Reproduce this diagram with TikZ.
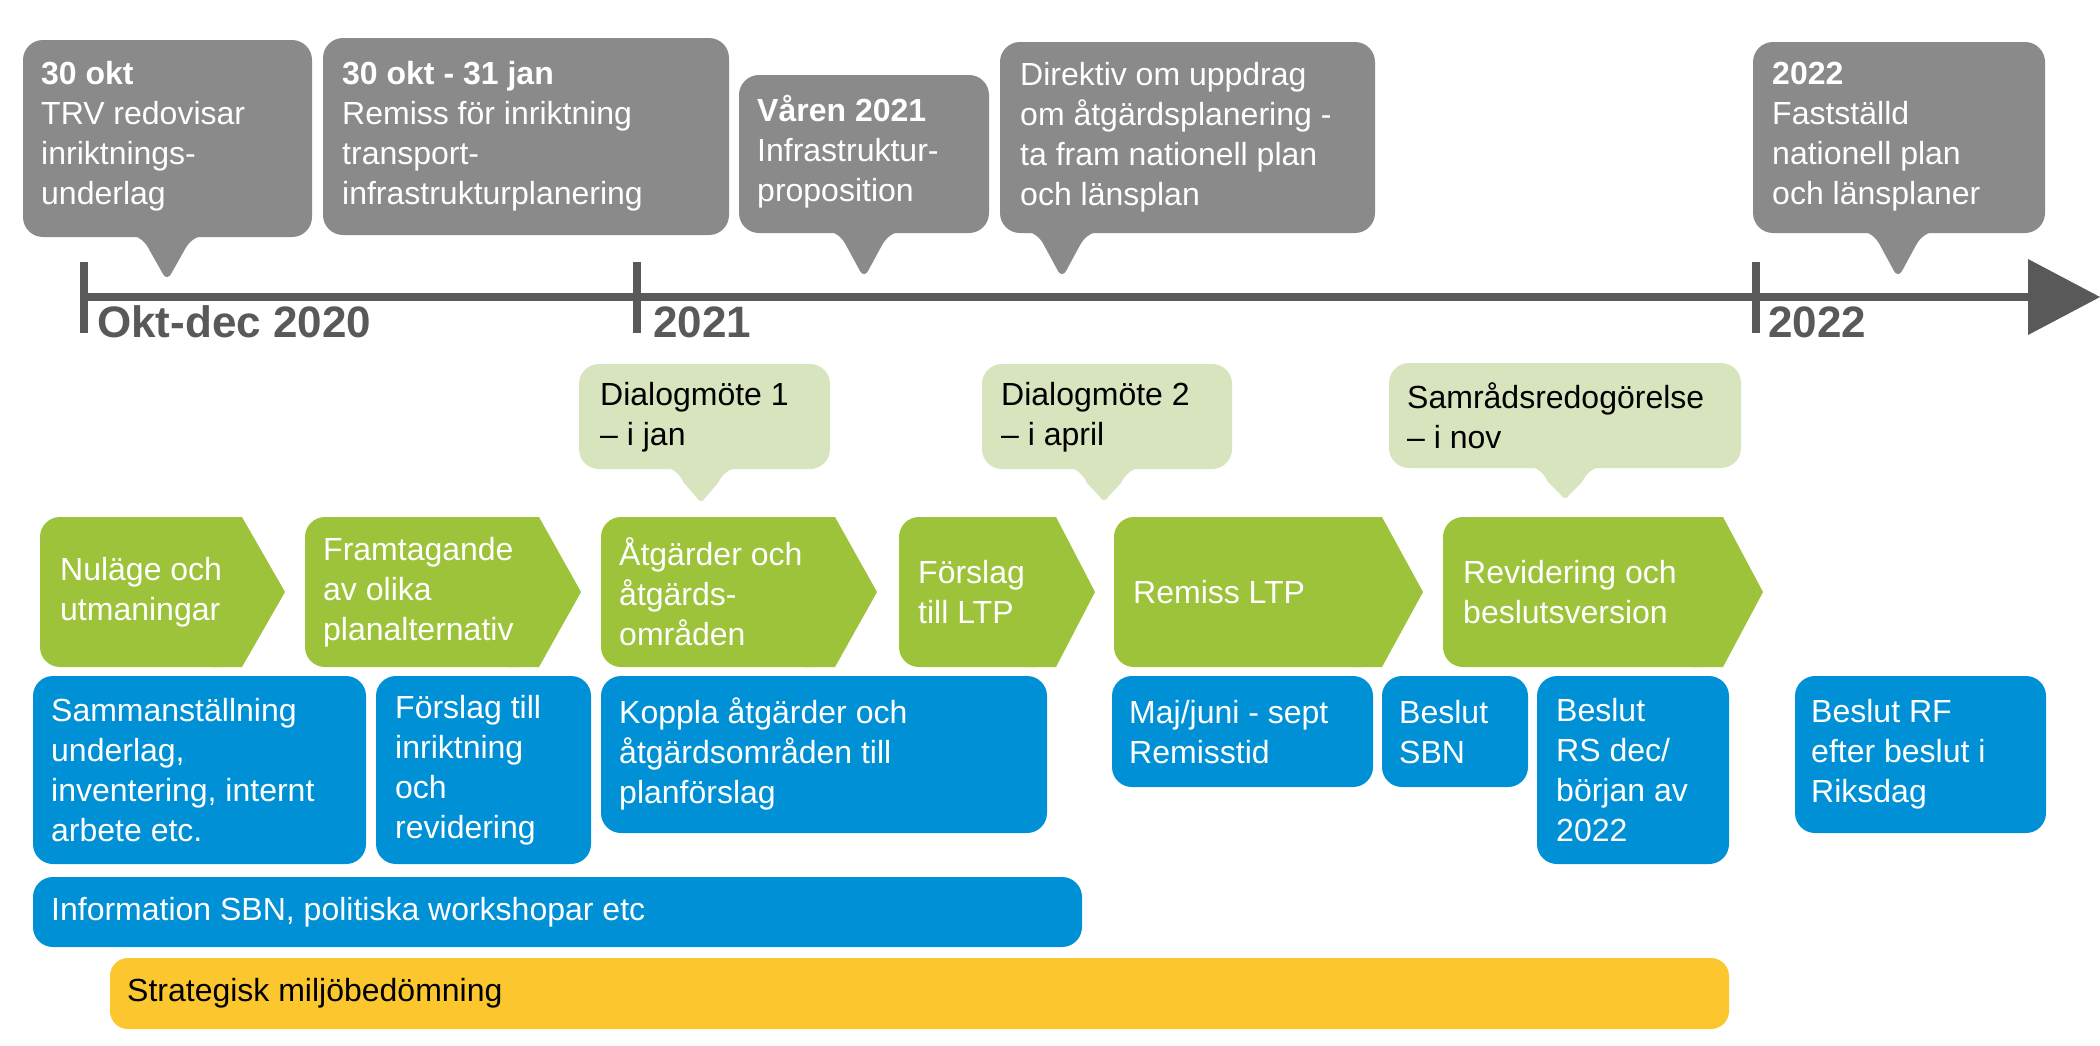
\documentclass[tikz,border=0pt]{standalone}
\usepackage{fontspec}
\setmainfont{Liberation Sans}
\definecolor{callgray}{HTML}{8A8A8A}
\definecolor{axisgray}{HTML}{595959}
\definecolor{lightgreen}{HTML}{D7E4BD}
\definecolor{chevgreen}{HTML}{9DC33B}
\definecolor{boxblue}{HTML}{0090D6}
\definecolor{boxyellow}{HTML}{FCC62E}
\newcommand\myptr[6]{% color, base left, base right, base y, tip x, tip y
  \fill[#1] (#2,{#4-3}) .. controls ({#2+12},#4) and ({#5-22},{#4+4}) .. ({#5-17},{#4+14})
    -- ({#5-4},{#6-4}) .. controls ({#5-2},#6) and ({#5+2},#6) .. ({#5+4},{#6-4})
    -- ({#5+17},{#4+14}) .. controls ({#5+22},{#4+4}) and ({#3-12},#4) .. (#3,{#4-3}) -- cycle;}
\newcommand\mychev[3]{% left, right, tip
  \fill[chevgreen, rounded corners=20] (#1,517) rectangle (#2,667);
  \fill[chevgreen] ({#2-30},517) -- (#2,517) -- (#3,592) -- (#2,667) -- ({#2-30},667) -- cycle;}
\tikzset{
  txt/.style={anchor=west, align=left, inner sep=0pt, font=\fontsize{32}{40}\selectfont},
  wtxt/.style={txt, text=white},
  btxt/.style={txt, text=black},
  axlabel/.style={anchor=base west, inner sep=0pt, text=axisgray, font=\fontsize{44}{50}\selectfont\bfseries},
  rbox/.style={rounded corners=20}
}
\begin{document}
\begin{tikzpicture}[x=1pt, y=-1pt]
\useasboundingbox (0,0) rectangle (2100,1045);
\fill[white] (0,0) rectangle (2100,1045);

% gray callouts
\fill[callgray, rbox] (23,40) rectangle (312,237);
\myptr{callgray}{128}{207}{237}{167}{278}
\node[wtxt] (g1) at (41,136) {\textbf{30 okt}\\TRV redovisar\\inriktnings-\\underlag};

\fill[callgray, rbox] (323,38) rectangle (729,235);
\node[wtxt] (g2) at (342,136) {\textbf{30 okt - 31 jan}\\Remiss för inriktning\\transport-\\infrastrukturplanering};

\fill[callgray, rbox] (739,75) rectangle (989,233);
\myptr{callgray}{825}{904}{233}{864}{275}
\node[wtxt] (g3) at (757,152) {\textbf{Våren 2021}\\Infrastruktur-\\proposition};

\fill[callgray, rbox] (1000,42) rectangle (1375,233);
\myptr{callgray}{1023}{1102}{233}{1062}{275}
\node[wtxt] (g4) at (1020,137) {Direktiv om uppdrag\\om åtgärdsplanering -\\ta fram nationell plan\\och länsplan};

\fill[callgray, rbox] (1753,42) rectangle (2045,233);
\myptr{callgray}{1859}{1938}{233}{1898}{275}
\node[wtxt] (g5) at (1772,137) {\textbf{2022}\\Fastställd\\nationell plan\\och länsplaner};

% axis
\draw[axisgray, line width=8pt] (84,297) -- (2030,297);
\fill[axisgray] (2028,259) -- (2100,297) -- (2028,335) -- cycle;
\foreach \t in {84,637,1756} \draw[axisgray, line width=8pt] (\t,262) -- (\t,333);
\node[axlabel] (a1) at (97,337) {Okt-dec 2020};
\node[axlabel] (a2) at (653,337) {2021};
\node[axlabel] (a3) at (1768,337) {2022};

% green callouts
\fill[lightgreen, rbox] (579,364) rectangle (830,469);
\myptr{lightgreen}{662}{741}{469}{701}{502}
\node[btxt] (d1) at (600,417) {Dialogmöte 1\\– i jan};

\fill[lightgreen, rbox] (982,364) rectangle (1232,469);
\myptr{lightgreen}{1065}{1144}{469}{1104}{501}
\node[btxt] (d2) at (1001,417) {Dialogmöte 2\\– i april};

\fill[lightgreen, rbox] (1389,363) rectangle (1741,468);
\myptr{lightgreen}{1526}{1605}{468}{1565}{499}
\node[btxt] (d3) at (1407,416) {Samrådsredogörelse\\– i nov};

% chevrons
\mychev{40}{242}{285}
\node[wtxt] (c1) at (60,592) {Nuläge och\\utmaningar};
\mychev{305}{539}{581}
\node[wtxt] (c2) at (323,592) {Framtagande\\av olika\\planalternativ};
\mychev{601}{835}{877}
\node[wtxt] (c3) at (619,592) {Åtgärder och\\åtgärds-\\områden};
\mychev{899}{1056}{1095}
\node[wtxt] (c4) at (918,592) {Förslag\\till LTP};
\mychev{1114}{1382}{1423}
\node[wtxt] (c5) at (1133,592) {Remiss LTP};
\mychev{1443}{1723}{1763}
\node[wtxt] (c6) at (1463,592) {Revidering och\\beslutsversion};

% blue boxes
\fill[boxblue, rbox] (33,676) rectangle (366,864);
\node[wtxt] (b1) at (51,770) {Sammanställning\\underlag,\\inventering, internt\\arbete etc.};
\fill[boxblue, rbox] (376,676) rectangle (591,864);
\node[wtxt] (b2) at (395,770) {Förslag till\\inriktning\\och\\revidering};
\fill[boxblue, rbox] (601,676) rectangle (1047,833);
\node[wtxt] (b3) at (619,754) {Koppla åtgärder och\\åtgärdsområden till\\planförslag};
\fill[boxblue, rbox] (1112,676) rectangle (1373,787);
\node[wtxt] (b4) at (1129,732) {Maj/juni - sept\\Remisstid};
\fill[boxblue, rbox] (1382,676) rectangle (1528,787);
\node[wtxt] (b5) at (1399,732) {Beslut\\SBN};
\fill[boxblue, rbox] (1537,676) rectangle (1729,864);
\node[wtxt] (b6) at (1556,770) {Beslut\\RS dec/\\början av\\2022};
\fill[boxblue, rbox] (1795,676) rectangle (2046,833);
\node[wtxt] (b7) at (1811,754) {Beslut RF\\efter beslut i\\Riksdag};
\fill[boxblue, rbox] (33,877) rectangle (1082,947);
\node[wtxt] (b8) at (51,912) {Information SBN, politiska workshopar etc};

% yellow bar
\fill[boxyellow, rounded corners=18] (110,958) rectangle (1729,1029);
\node[btxt] (y1) at (127,993) {Strategisk miljöbedömning};
\end{tikzpicture}
\end{document}
